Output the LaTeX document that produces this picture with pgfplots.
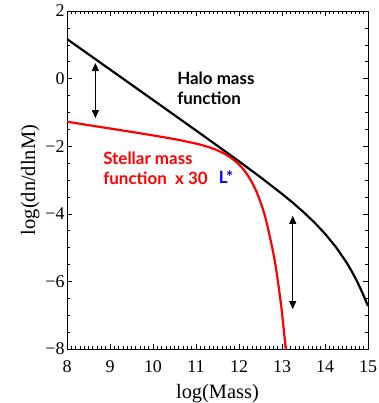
\documentclass[border=0pt]{standalone}
\usepackage{fontspec}
\setmainfont{Liberation Serif}
\newfontfamily\gill{Lato}
\usepackage{pgfplots}
\pgfplotsset{compat=1.18}
\usetikzlibrary{arrows.meta}
\begin{document}
\begin{tikzpicture}
\begin{axis}[name=ax,
  scale only axis, width=301bp, height=338bp,
  xmin=8, xmax=15, ymin=-8, ymax=2,
  xtick={8,9,...,15}, ytick={-8,-6,-4,-2,0,2},
  yticklabels={−8,−6,−4,−2,0,2},
  minor x tick num=9, minor y tick num=3,
  tick align=inside, tick pos=both,
  major tick length=5bp, minor tick length=2.8bp,
  every tick/.style={black, line width=0.6bp},
  axis line style={line width=0.8bp},
  tick label style={font=\fontsize{18}{20}\selectfont},
  yticklabel style={xshift=1bp},
  xticklabel style={yshift=-8bp},
  /pgf/number format/assume math mode=true,
  xlabel={log(Mass)}, ylabel={log(dn/dlnM)},
  label style={font=\fontsize{20.5}{22}\selectfont},
  xlabel style={yshift=-5bp},
  ylabel style={yshift=-1bp},
  clip=true,
]
% Halo mass function
\addplot[black, line width=2.2bp] coordinates {
(8,1.17)(9,0.27)(10,-0.631)(11,-1.534)(11.5,-1.989)(12,-2.448)(12.5,-2.918)
(13,-3.41)(13.25,-3.67)(13.5,-3.95)(13.75,-4.251)(14,-4.589)(14.25,-4.977)(14.5,-5.438)(14.625,-5.71)(14.75,-6.009)(14.875,-6.35)(15,-6.73)};
% Stellar mass function x 30
\addplot[red, line width=2.2bp, smooth] coordinates {
(8,-1.276)(8.5,-1.376)(9,-1.476)(9.5,-1.577)(10,-1.681)(10.5,-1.791)(11,-1.923)
(11.25,-2.009)(11.5,-2.123)(11.75,-2.288)(12,-2.541)(12.2,-2.854)(12.4,-3.325)
(12.6,-4.049)(12.8,-5.172)(12.9,-5.952)(13.0,-6.930)(13.1,-8.154)};
% arrows
\addplot[black, line width=0.8bp, {Triangle[width=7bp,length=8bp]}-{Triangle[width=7bp,length=8bp]}] coordinates {(8.66,0.46)(8.66,-1.17)};
\addplot[black, line width=0.8bp, {Triangle[width=7bp,length=8bp]}-{Triangle[width=7bp,length=8bp]}] coordinates {(13.25,-4.06)(13.25,-6.82)};
% labels
\node[anchor=west, align=left, inner sep=0pt, font=\gill\bfseries\fontsize{17}{20}\selectfont] at (axis cs:10.56,-0.28) {Halo mass\\function};
\node[anchor=west, align=left, inner sep=0pt, text=red, font=\gill\bfseries\fontsize{17}{20.5}\selectfont] at (axis cs:8.84,-2.66) {Stellar mass\\function\ \ x 30};
\node[anchor=base west, inner sep=0pt, text=blue, font=\gill\bfseries\fontsize{17}{19}\selectfont] at (axis cs:11.53,-3.09) {L*};
\end{axis}
\pgfresetboundingbox
\path ([shift={(-67bp,-54bp)}]ax.south west) rectangle ([shift={(11bp,11bp)}]ax.north east);
\end{tikzpicture}
\end{document}
